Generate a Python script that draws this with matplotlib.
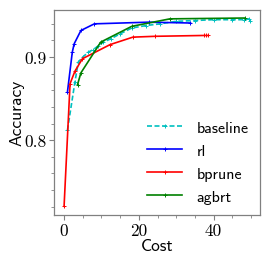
import matplotlib
matplotlib.use("Agg")
import matplotlib.pyplot as plt
from matplotlib.ticker import MultipleLocator, FuncFormatter

baseline_cost = [0.9, 2.9, 3.8, 5.0, 6.5, 7.8, 9.0, 10.5, 12.5, 15.0, 18.1, 22.0, 25.7, 30.0, 35.0, 40.0, 45.0, 48.0, 49.5, 49.8]
baseline_acc = [0.812, 0.870, 0.894, 0.900, 0.906, 0.909, 0.913, 0.918, 0.922, 0.928, 0.935, 0.938, 0.940, 0.943, 0.944, 0.945, 0.945, 0.945, 0.946, 0.944]

rl_cost = [0.9, 2.2, 2.7, 4.5, 8.1, 22.6, 33.8]
rl_acc = [0.858, 0.906, 0.916, 0.932, 0.940, 0.942, 0.941]

bprune_cost = [0.0, 1.6, 2.9, 4.9, 12.3, 18.4, 24.3, 37.3, 37.9, 38.5]
bprune_acc = [0.7205, 0.868, 0.883, 0.898, 0.915, 0.924, 0.925, 0.926, 0.926, 0.926]

agbrt_cost = [3.6, 4.5, 9.8, 18.1, 28.3, 48.4]
agbrt_acc = [0.867, 0.881, 0.918, 0.937, 0.946, 0.947]

x_ticks = [0, 20, 40]
y_ticks = [0.8, 0.9]

fig = plt.figure(figsize=(2.74, 2.55), dpi=100)
ax = fig.add_axes([0.197, 0.153, 0.752, 0.805])

kw = dict(marker='+', markersize=3.2, markeredgewidth=0.7, linewidth=1.2)
ax.plot(baseline_cost, baseline_acc, color='#00c0c0', linestyle=(0, (3, 1.5)), label='baseline', **kw)
ax.plot(rl_cost, rl_acc, color='#0000ff', label='rl', **kw)
ax.plot(bprune_cost, bprune_acc, color='#ff0000', label='bprune', **kw)
ax.plot(agbrt_cost, agbrt_acc, color='#008000', label='agbrt', **kw)

ax.set_xlim(-2.7, 52.4)
ax.set_ylim(0.71, 0.957)
ax.set_xticks(x_ticks)
ax.set_yticks(y_ticks)
ax.xaxis.set_minor_locator(MultipleLocator(5))
ax.yaxis.set_minor_locator(MultipleLocator(0.02))
fmt = FuncFormatter(lambda v, p: f"{v:g}")
ax.xaxis.set_major_formatter(fmt)
ax.yaxis.set_major_formatter(fmt)
for lab in ax.get_xticklabels() + ax.get_yticklabels():
    lab.set_fontfamily('cmr10')
    lab.set_fontsize(12.5)

gray = '#808080'
for s in ax.spines.values():
    s.set_color(gray)
    s.set_linewidth(0.9)
ax.tick_params(which='both', direction='out', color=gray, pad=2)
ax.tick_params(which='major', length=3.5, width=0.8)
ax.tick_params(which='minor', length=2, width=0.6)

ax.set_xlabel('Cost', fontfamily='cmss10', fontsize=12.5, labelpad=0)
ax.set_ylabel('Accuracy', fontfamily='cmss10', fontsize=12.5, labelpad=0)

leg = ax.legend(loc='lower right', frameon=False, prop={'family': 'cmss10', 'size': 11.5},
                handlelength=2.2, handletextpad=0.9, labelspacing=0.55, borderaxespad=0.3)

fig.savefig('out.png', dpi=100)
